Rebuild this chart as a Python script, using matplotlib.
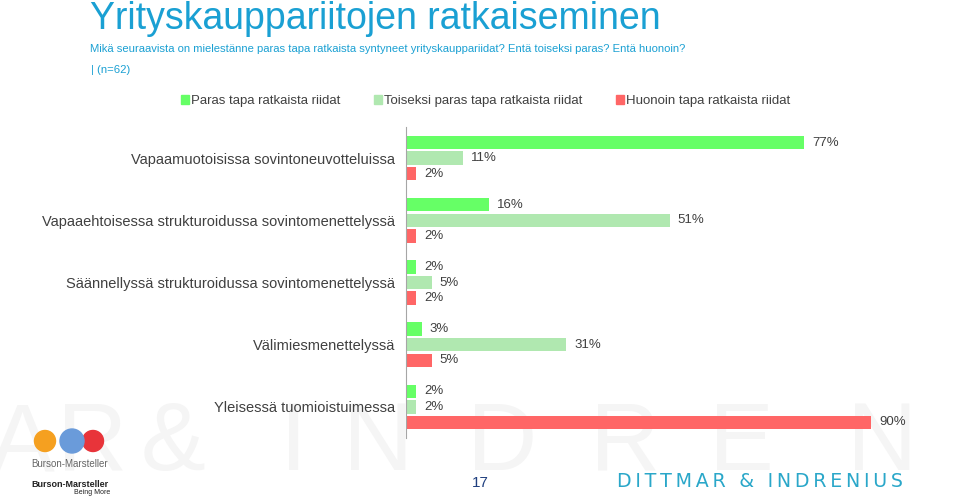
import numpy as np
import matplotlib
matplotlib.use('Agg')
import matplotlib.pyplot as plt
from matplotlib.patches import Patch

plt.rcParams['font.family'] = ['Liberation Sans', 'DejaVu Sans']

#%% data
categories = ['Vapaamuotoisissa sovintoneuvotteluissa',
              'Vapaaehtoisessa strukturoidussa sovintomenettelyssä',
              'Säännellyssä strukturoidussa sovintomenettelyssä',
              'Välimiesmenettelyssä',
              'Yleisessä tuomioistuimessa']
series_names = ['Paras tapa ratkaista riidat',
                'Toiseksi paras tapa ratkaista riidat',
                'Huonoin tapa ratkaista riidat']
paras = [77, 16, 2, 3, 2]
toiseksi = [11, 51, 5, 31, 2]
huonoin = [2, 2, 2, 5, 90]
colors = ['#66FF66', '#B0E8B0', '#FF6666']

title = 'Yrityskauppariitojen ratkaiseminen'
subtitle = 'Mikä seuraavista on mielestänne paras tapa ratkaista syntyneet yrityskauppariidat? Entä toiseksi paras? Entä huonoin?'
subtitle2 = '| (n=62)'

#%% figure
fig = plt.figure(figsize=(9.6, 4.98), dpi=100)

# faint watermark in the background, letters spread wide
wm_letters = ['A', 'R', '&', 'I', 'N', 'D', 'R', 'E', 'N']
wm_x = [22, 92, 173, 294, 378, 502, 625, 741, 882]
for ch, xx in zip(wm_letters, wm_x):
    fig.text(xx/960, 1 - 470/498, ch, fontsize=70, color='#F5F5F5',
             ha='center', va='baseline', zorder=-5)

ax = fig.add_axes([406/960, 60/498, 517/960, 311/498])
ax.patch.set_alpha(0)

y = np.arange(len(categories))
off = 0.25
h = 0.215
for vals, dy, c in zip([paras, toiseksi, huonoin], [-off, 0, off], colors):
    bars = ax.barh(y + dy, vals, height=h, color=c, edgecolor='none')
    for b, v in zip(bars, vals):
        ax.text(b.get_width() + 1.5, b.get_y() + b.get_height()/2, '%d%%' % v,
                va='center', ha='left', fontsize=9.5, color='#404040')

ax.set_xlim(0, 100)
ax.set_ylim(len(categories) - 0.5, -0.5)
ax.set_yticks(y)
ax.set_yticklabels(categories, fontsize=10.5, color='#404040')
ax.tick_params(axis='y', length=0, pad=8)
ax.set_xticks([])
for s in ['top', 'right', 'bottom']:
    ax.spines[s].set_visible(False)
ax.spines['left'].set_color('#A6A6A6')

# legend
handles = [Patch(color=c) for c in colors]
fig.legend(handles, series_names, loc='center', bbox_to_anchor=(0.506, 1 - 101/498),
           ncol=3, frameon=False, fontsize=9.5, handlelength=0.6, handleheight=0.6,
           handletextpad=0.2, columnspacing=2.5, labelcolor='#404040')

# titles
fig.text(90/960, 1 - 29/498, title, fontsize=27, color='#1AA0D3', va='baseline', ha='left')
fig.text(90/960, 1 - 52/498, subtitle, fontsize=8.1, color='#1AA0D3', va='baseline', ha='left')
fig.text(91/960, 1 - 73/498, subtitle2, fontsize=8.1, color='#1AA0D3', va='baseline', ha='left')

# footer
fig.text(480/960, 1 - 487/498, '17', fontsize=11, color='#1F3F7F', ha='center', va='baseline')
brand = '\u2009'.join('DITTMAR & INDRENIUS')
fig.text(617/960, 1 - 487/498, brand, fontsize=13.7, color='#2AA7C9',
         ha='left', va='baseline', family='DejaVu Sans')

# Burson-Marsteller logo
lax = fig.add_axes([30/960, 1 - 456/498, 80/960, 30/498])
lax.set_xlim(30, 110)
lax.set_ylim(456, 426)
lax.set_aspect('equal')
lax.axis('off')
for cx, r, c in zip([45, 93, 72], [10.5, 10.5, 12], ['#F5A020', '#E8343A', '#6A9BDA']):
    lax.add_patch(plt.Circle((cx, 441), r, color=c))
fig.text(70/960, 1 - 467/498, 'Burson-Marsteller', fontsize=7, color='#666666', ha='center')
fig.text(70/960, 1 - 487/498, 'Burson-Marsteller', fontsize=6.5, color='#222222', ha='center', weight='bold')
fig.text(110/960, 1 - 494/498, 'Being More', fontsize=5, color='#222222', ha='right')

fig.savefig('out.png', dpi=100)
